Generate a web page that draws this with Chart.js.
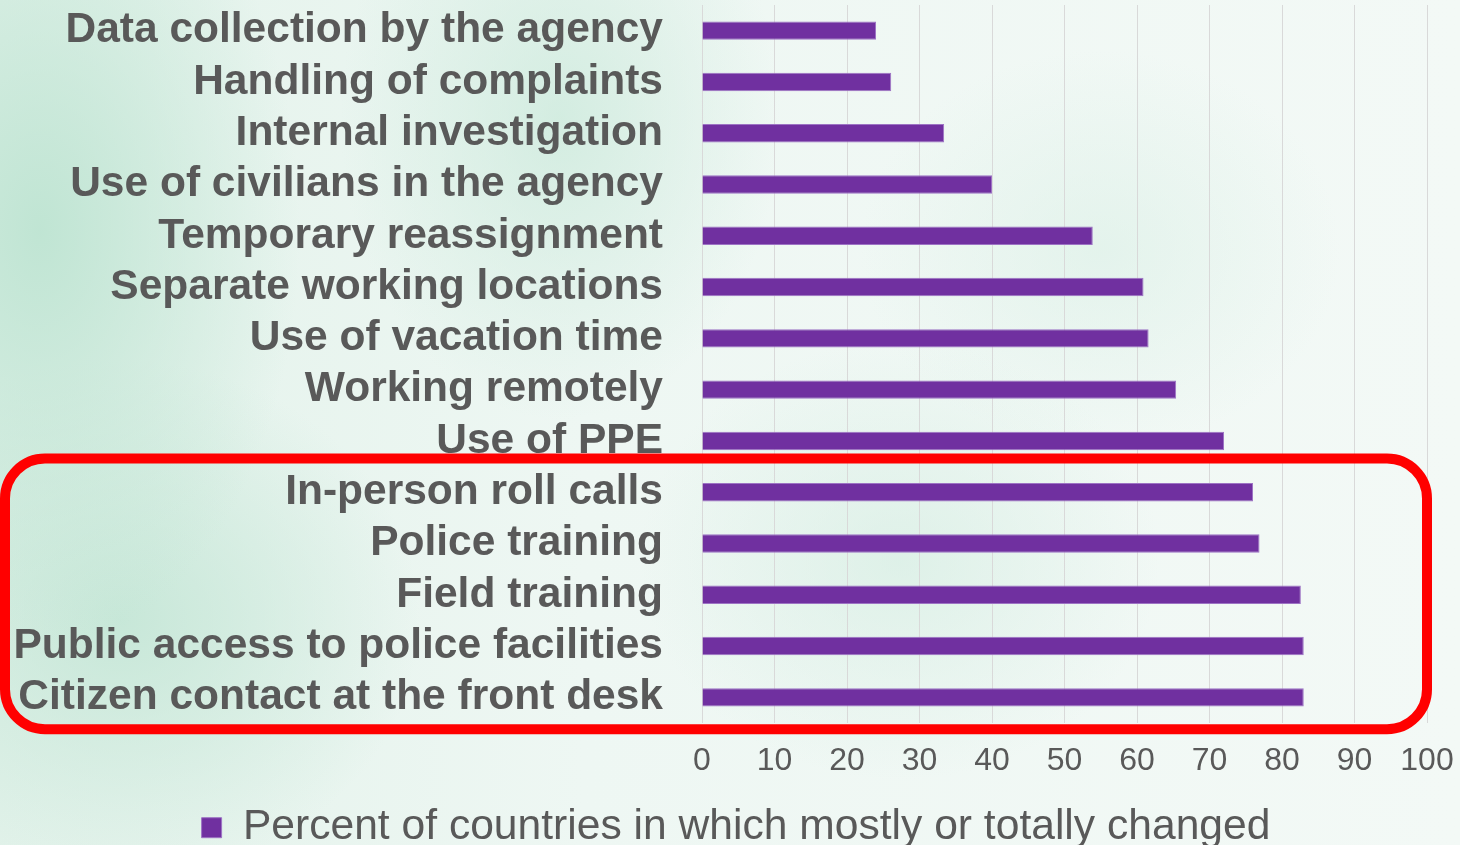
<!DOCTYPE html>
<html>
<head>
<meta charset="utf-8">
<script src="https://cdn.jsdelivr.net/npm/chart.js@4.4.1/dist/chart.umd.min.js"></script>
<style>
  html, body { margin: 0; padding: 0; }
  body {
    width: 1460px; height: 845px; overflow: hidden;
    background:
      radial-gradient(ellipse 260px 420px at 40px 230px, rgba(190,228,210,0.95), rgba(190,228,210,0) 100%),
      radial-gradient(ellipse 300px 260px at 120px 620px, rgba(196,230,214,0.9), rgba(196,230,214,0) 100%),
      radial-gradient(ellipse 220px 300px at 560px 120px, rgba(200,232,217,0.7), rgba(200,232,217,0) 100%),
      radial-gradient(ellipse 260px 220px at 900px 560px, rgba(210,236,224,0.6), rgba(210,236,224,0) 100%),
      radial-gradient(ellipse 240px 200px at 1100px 250px, rgba(214,238,227,0.5), rgba(214,238,227,0) 100%),
      linear-gradient(90deg, #e2f2ea 0%, #eef7f3 40%, #f3f9f6 100%);
  }
  #wrap { position: absolute; left: 0; top: 0; width: 1460px; height: 845px; }
</style>
</head>
<body>
<div id="wrap"><canvas id="chart"></canvas></div>
<script>
const categories = [
  'Data collection by the agency',
  'Handling of complaints',
  'Internal investigation',
  'Use of civilians in the agency',
  'Temporary reassignment',
  'Separate working locations',
  'Use of vacation time',
  'Working remotely',
  'Use of PPE',
  'In-person roll calls',
  'Police training',
  'Field training',
  'Public access to police facilities',
  'Citizen contact at the front desk'
];
const percentChanged = [24, 26.1, 33.4, 40, 53.9, 60.9, 61.6, 65.4, 72, 76, 76.9, 82.6, 83, 83];
const xTicks = [0, 10, 20, 30, 40, 50, 60, 70, 80, 90, 100];
const seriesName = 'Percent of countries in which mostly or totally changed';

const textGrey = '#595959';
const purple = '#7030a0';
const fontFamily = '"Liberation Sans", Arial, sans-serif';

// red rounded box around the last five rows
const highlightBox = {
  id: 'highlightBox',
  afterLayout(chart) {
    // legend sits a bit right of the canvas centre
    chart.legend.left += 6;
    chart.legend.right += 6;
  },
  afterDraw(chart) {
    const y = chart.scales.y;
    const step = y.getPixelForValue(1) - y.getPixelForValue(0);
    const top = (y.getPixelForValue(8) + y.getPixelForValue(9)) / 2 - 8;
    const bottom = y.getPixelForValue(13) + step * 0.62;
    const left = 5;
    const right = chart.chartArea.right;
    const ctx = chart.ctx;
    ctx.save();
    ctx.strokeStyle = '#ff0000';
    ctx.lineWidth = 10;
    ctx.beginPath();
    ctx.roundRect(left, top, right - left, bottom - top, 40);
    ctx.stroke();
    ctx.restore();
  }
};

const ctx = document.getElementById('chart').getContext('2d');
new Chart(ctx, {
  type: 'bar',
  data: {
    labels: categories,
    datasets: [{
      label: seriesName,
      data: percentChanged,
      backgroundColor: purple,
      borderColor: '#9d73c4',
      borderWidth: 1,
      barPercentage: 0.36,
      categoryPercentage: 1
    }]
  },
  options: {
    indexAxis: 'y',
    responsive: true,
    maintainAspectRatio: false,
    animation: false,
    layout: { padding: { top: 5, right: 0, left: 0, bottom: -14 } },
    scales: {
      x: {
        min: 0,
        max: 100,
        afterBuildTicks: s => { s.ticks = xTicks.map(v => ({ value: v })); },
        afterFit: s => { s.paddingLeft = 0; s.paddingRight = 33; },
        grid: { color: '#d9d9d9', lineWidth: 1, drawTicks: false },
        border: { display: false },
        ticks: {
          color: textGrey,
          padding: 19,
          font: { family: fontFamily, size: 32 }
        }
      },
      y: {
        afterFit: s => { s.width = 702; s.paddingTop = 0; s.paddingBottom = 0; },
        grid: { display: false, drawTicks: true, tickLength: 39 },
        border: { display: false },
        ticks: {
          autoSkip: false,
          color: textGrey,
          padding: 0,
          font: { family: fontFamily, size: 42.5, weight: 'bold', lineHeight: 1 }
        }
      }
    },
    plugins: {
      legend: {
        position: 'bottom',
        labels: {
          color: textGrey,
          boxWidth: 20,
          boxHeight: 20,
          padding: 7,
          font: { family: fontFamily, size: 42.6 }
        }
      },
      tooltip: { enabled: false }
    }
  },
  plugins: [highlightBox]
});
</script>
</body>
</html>
